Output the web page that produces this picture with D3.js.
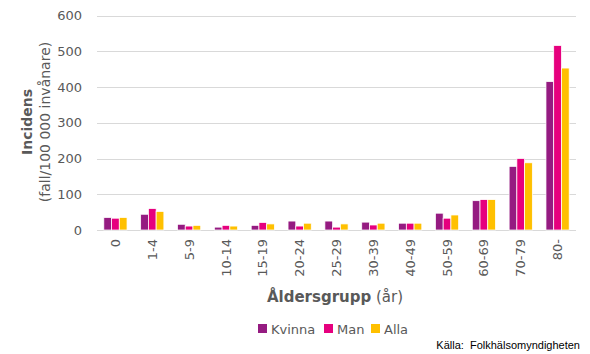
<!DOCTYPE html>
<html>
<head>
<meta charset="utf-8">
<script src="https://cdn.jsdelivr.net/npm/d3@7"></script>
<style>
  body { margin: 0; background: #fff; }
  svg text { font-family: "DejaVu Sans", sans-serif; }
</style>
</head>
<body>
<div id="chart"></div>
<script>
// age groups and incidence per 100 000
var categories = ['0', '1-4', '5-9', '10-14', '15-19', '20-24', '25-29', '30-39', '40-49', '50-59', '60-69', '70-79', '80-'];
var seriesNames = ['Kvinna', 'Man', 'Alla'];
var kvinna = [35, 44, 16, 8, 13, 25, 25, 22, 19, 47, 82, 178, 415];
var man    = [33, 60, 11, 13, 21, 11, 8, 14, 19, 33, 85, 200, 516];
var alla   = [35, 52, 13, 11, 17, 19, 17, 19, 19, 42, 85, 188, 453];
var yTicks = [0, 100, 200, 300, 400, 500, 600];
var colors = ['#951B81', '#E6007E', '#FFC000'];

var width = 590, height = 354;
var plot = { left: 97, right: 576, top: 15.5, bottom: 230 };

var svg = d3.select('#chart').append('svg')
    .attr('width', width)
    .attr('height', height);

var x = d3.scaleBand()
    .domain(categories)
    .range([plot.left, plot.right])
    .paddingInner(0.37)
    .paddingOuter(0.185);

var xs = d3.scaleBand()
    .domain(seriesNames)
    .range([0, x.bandwidth()]);

var y = d3.scaleLinear()
    .domain([0, 600])
    .range([plot.bottom, plot.top]);

// gridlines
svg.append('g').selectAll('line')
    .data(yTicks)
  .enter().append('line')
    .attr('x1', plot.left)
    .attr('x2', plot.right)
    .attr('y1', function(d) { return Math.round(y(d)) + 0.5; })
    .attr('y2', function(d) { return Math.round(y(d)) + 0.5; })
    .attr('stroke', '#d9d9d9')
    .attr('stroke-width', 1);

// y tick labels
svg.append('g').selectAll('text')
    .data(yTicks)
  .enter().append('text')
    .attr('x', 82)
    .attr('y', function(d) { return y(d); })
    .attr('dy', '0.35em')
    .attr('text-anchor', 'end')
    .attr('fill', '#595959')
    .style('font-size', '13px')
    .text(function(d) { return d; });

// bars
var table = categories.map(function(c, i) {
  return { cat: c, vals: [kvinna[i], man[i], alla[i]] };
});

var groups = svg.append('g').selectAll('g')
    .data(table)
  .enter().append('g')
    .attr('transform', function(d) { return 'translate(' + x(d.cat) + ',0)'; });

groups.selectAll('rect')
    .data(function(d) { return d.vals.map(function(v, j) { return { name: seriesNames[j], v: v, j: j }; }); })
  .enter().append('rect')
    .attr('x', function(d) { return xs(d.name); })
    .attr('width', xs.bandwidth())
    .attr('y', function(d) { return y(d.v); })
    .attr('height', function(d) { return y(0) - y(d.v); })
    .attr('fill', function(d) { return colors[d.j]; })
    .attr('stroke', '#fff')
    .attr('stroke-width', 0.75);

// x tick labels (rotated)
svg.append('g').selectAll('text')
    .data(categories)
  .enter().append('text')
    .attr('transform', function(d) { return 'translate(' + (x(d) + x.bandwidth() / 2) + ',239) rotate(-90)'; })
    .attr('dy', '0.35em')
    .attr('text-anchor', 'end')
    .attr('fill', '#595959')
    .style('font-size', '13px')
    .text(function(d) { return d; });

// y axis title
var yt = svg.append('text')
    .attr('transform', 'translate(0,122) rotate(-90)')
    .attr('text-anchor', 'middle')
    .attr('fill', '#595959');
yt.append('tspan')
    .attr('x', 0).attr('y', 32)
    .style('font-size', '14px')
    .style('font-weight', 'bold')
    .text('Incidens');
yt.append('tspan')
    .attr('x', 0).attr('y', 50)
    .style('font-size', '14px')
    .text('(fall/100 000 invånare)');

// x axis title
var xt = svg.append('text')
    .attr('x', 335)
    .attr('y', 302)
    .attr('text-anchor', 'middle')
    .attr('fill', '#595959')
    .style('font-size', '15px');
xt.append('tspan').style('font-weight', 'bold').text('Åldersgrupp');
xt.append('tspan').text(' (år)');

// legend
var legendX = [258, 324, 371];
var legend = svg.append('g').selectAll('g')
    .data(seriesNames)
  .enter().append('g')
    .attr('transform', function(d, i) { return 'translate(' + legendX[i] + ',324)'; });

legend.append('rect')
    .attr('width', 9)
    .attr('height', 9)
    .attr('fill', function(d, i) { return colors[i]; });

legend.append('text')
    .attr('x', 13)
    .attr('y', 9.5)
    .attr('fill', '#595959')
    .style('font-size', '13px')
    .text(function(d) { return d; });

// source
svg.append('text')
    .attr('x', 580)
    .attr('y', 349)
    .attr('text-anchor', 'end')
    .attr('fill', '#000')
    .style('font-family', '"Liberation Sans", sans-serif')
    .style('font-size', '11px')
    .attr('xml:space', 'preserve')
    .text('Källa:  Folkhälsomyndigheten');
</script>
</body>
</html>
